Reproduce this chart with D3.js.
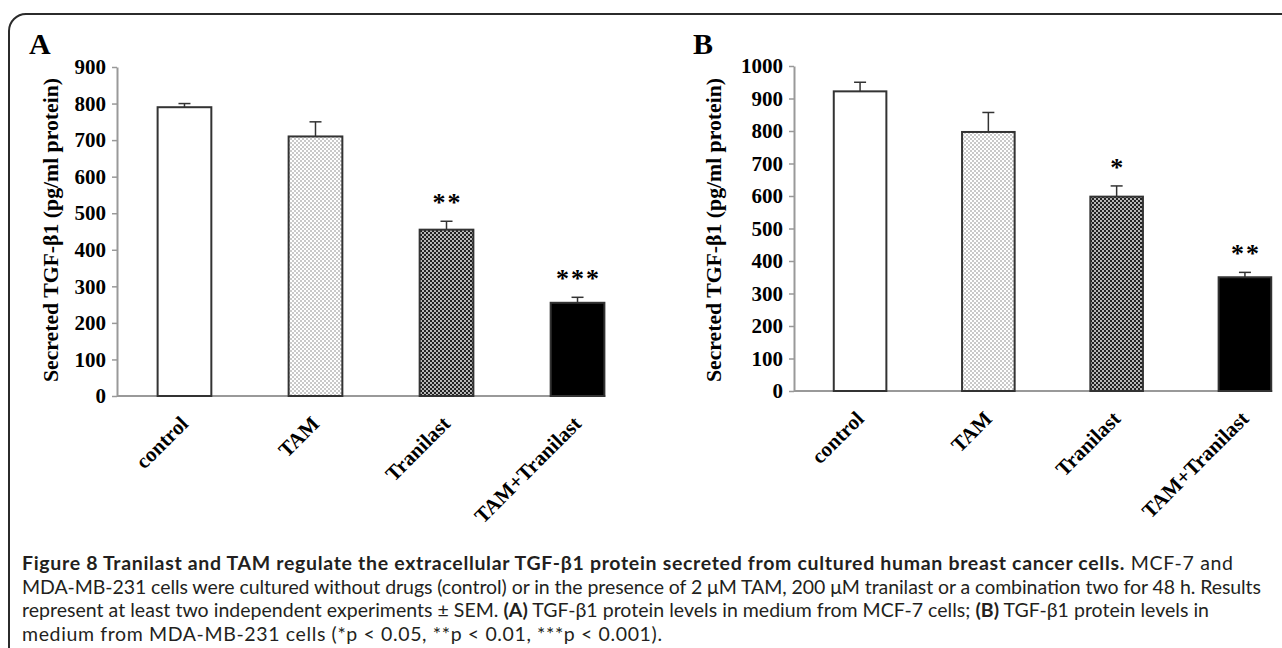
<!DOCTYPE html>
<html>
<head>
<meta charset="utf-8">
<script src="https://cdn.jsdelivr.net/npm/d3@7"></script>
<style>
  body { margin: 0; background: #fff; }
  svg { display: block; }
  .caption { font-family: Lato, "Open Sans", sans-serif; font-size: 19.5px; fill: #231f20; white-space: pre; }
</style>
</head>
<body>
<div id="chart"></div>
<script>
// data
var categories = ["control", "TAM", "Tranilast", "TAM+Tranilast"];

var valuesA = [790, 710, 455, 255];
var errorsA = [10, 40, 23, 15];
var starsA = ["", "", "**", "***"];
var ticksA = [0, 100, 200, 300, 400, 500, 600, 700, 800, 900];

var valuesB = [922, 797, 598, 350];
var errorsB = [28, 60, 33, 15];
var starsB = ["", "", "*", "**"];
var ticksB = [0, 100, 200, 300, 400, 500, 600, 700, 800, 900, 1000];

var yTitle = "Secreted TGF-β1 (pg/ml protein)";

var captionLines = [
  [["Figure 8 Tranilast and TAM regulate the extracellular TGF-β1 protein secreted from cultured human breast cancer cells.", true], [" MCF-7 and", false]],
  [["MDA-MB-231 cells were cultured without drugs (control) or in the presence of 2 μM TAM, 200 μM tranilast or a combination two for 48 h. Results", false]],
  [["represent at least two independent experiments ± SEM. ", false], ["(A)", true], [" TGF-β1 protein levels in medium from MCF-7 cells; ", false], ["(B)", true], [" TGF-β1 protein levels in", false]],
  [["medium from MDA-MB-231 cells (*p < 0.05, **p < 0.01, ***p < 0.001).", false]]
];
var captionWidths = [1211, 1239, 1187, 640];

var serif = '"Liberation Serif", "Times New Roman", serif';
var fills = ["#fff", "url(#dotsLight)", "url(#dotsDark)", "#000"];

var svg = d3.select('#chart').append("svg")
    .attr("width", 1282)
    .attr("height", 648);

// bar fill patterns
var defs = svg.append("defs");
var light = defs.append("pattern").attr("id", "dotsLight")
    .attr("patternUnits", "userSpaceOnUse").attr("width", 4).attr("height", 4);
light.append("rect").attr("width", 4).attr("height", 4).attr("fill", "#fff");
light.append("rect").attr("x", 0.4).attr("y", 0.4).attr("width", 1.2).attr("height", 1.2).attr("fill", "#6a6a6a");
light.append("rect").attr("x", 2.4).attr("y", 2.4).attr("width", 1.2).attr("height", 1.2).attr("fill", "#6a6a6a");

var dark = defs.append("pattern").attr("id", "dotsDark")
    .attr("patternUnits", "userSpaceOnUse").attr("width", 4).attr("height", 4);
dark.append("rect").attr("width", 4).attr("height", 4).attr("fill", "#222");
dark.append("circle").attr("cx", 1).attr("cy", 1).attr("r", 0.9).attr("fill", "#fff");
dark.append("circle").attr("cx", 3).attr("cy", 3).attr("r", 0.9).attr("fill", "#fff");

// frame round the figure
svg.append("path")
    .attr("d", "M9,648 V31 A17,17 0 0 1 26,14 H1282")
    .attr("fill", "none")
    .attr("stroke", "#2b2b2b")
    .attr("stroke-width", 2);

function drawPanel(opt, values, errors, stars, ticks) {
  var g = svg.append("g");

  var x = d3.scaleBand().domain(categories)
      .range([opt.left, opt.left + opt.width])
      .paddingInner(0.59).paddingOuter(0.31);
  var y = d3.scaleLinear().domain([0, d3.max(ticks)]).range([opt.bottom, opt.top]);
  var bw = x.bandwidth();

  // panel letter
  g.append("text")
      .attr("x", opt.letterX).attr("y", 54)
      .attr("font-family", serif).attr("font-weight", "bold").attr("font-size", 30)
      .text(opt.letter);

  // y axis
  var yAxis = g.append("g")
      .attr("transform", "translate(" + opt.left + ",0)")
      .call(d3.axisLeft(y).tickValues(ticks).tickFormat(d3.format("d"))
            .tickSize(5).tickSizeOuter(0).tickPadding(6))
      .attr("font-family", serif).attr("font-size", 21).attr("font-weight", "bold");
  yAxis.select(".domain").attr("stroke", "#999").attr("stroke-width", 2);
  yAxis.selectAll(".tick line").attr("stroke", "#999").attr("stroke-width", 1.5);
  yAxis.selectAll(".tick text").attr("fill", "#000");

  // x baseline
  g.append("line")
      .attr("x1", opt.left).attr("x2", x(categories[categories.length - 1]) + bw + 1)
      .attr("y1", y(0)).attr("y2", y(0))
      .attr("stroke", "#999").attr("stroke-width", 2);

  // bars
  g.selectAll(".bar").data(values).enter().append("rect")
      .attr("class", "bar")
      .attr("x", function(d, i) { return x(categories[i]); })
      .attr("y", function(d) { return y(d); })
      .attr("width", bw)
      .attr("height", function(d) { return y(0) - y(d); })
      .attr("fill", function(d, i) { return fills[i]; })
      .attr("stroke", "#333")
      .attr("stroke-width", 2);

  // upper error bars
  var cx = function(i) { return x(categories[i]) + bw / 2; };
  g.selectAll(".err").data(values).enter().append("line")
      .attr("x1", function(d, i) { return cx(i); })
      .attr("x2", function(d, i) { return cx(i); })
      .attr("y1", function(d) { return y(d); })
      .attr("y2", function(d, i) { return y(d + errors[i]); })
      .attr("stroke", "#333").attr("stroke-width", 1.5);
  g.selectAll(".cap").data(values).enter().append("line")
      .attr("x1", function(d, i) { return cx(i) - 6; })
      .attr("x2", function(d, i) { return cx(i) + 6; })
      .attr("y1", function(d, i) { return y(d + errors[i]); })
      .attr("y2", function(d, i) { return y(d + errors[i]); })
      .attr("stroke", "#333").attr("stroke-width", 1.5);

  // significance stars
  g.selectAll(".star").data(values).enter().append("text")
      .attr("x", function(d, i) { return cx(i) + 1; })
      .attr("y", function(d, i) { return y(d + errors[i]) - 10; })
      .attr("text-anchor", "middle")
      .attr("font-family", serif).attr("font-weight", "bold").attr("font-size", 26)
      .attr("letter-spacing", 2)
      .text(function(d, i) { return stars[i]; });

  // rotated category labels
  g.selectAll(".xlab").data(categories).enter().append("text")
      .attr("transform", function(d, i) {
        return "translate(" + (cx(i) + 5) + "," + (y(0) + 29) + ") rotate(-45)";
      })
      .attr("text-anchor", "end")
      .attr("font-family", serif).attr("font-weight", "bold").attr("font-size", 21)
      .text(function(d) { return d; });

  // y axis title
  g.append("text")
      .attr("transform", "translate(" + opt.titleX + ",230) rotate(-90)")
      .attr("text-anchor", "middle")
      .attr("font-family", serif).attr("font-weight", "bold").attr("font-size", 21)
      .attr("textLength", 304).attr("lengthAdjust", "spacingAndGlyphs")
      .text(yTitle);
}

drawPanel({ letter: "A", letterX: 29, left: 117, width: 528, top: 67, bottom: 396, titleX: 58 },
          valuesA, errorsA, starsA, ticksA);
drawPanel({ letter: "B", letterX: 693, left: 794, width: 517, top: 66, bottom: 391, titleX: 721 },
          valuesB, errorsB, starsB, ticksB);

// caption
captionLines.forEach(function(line, i) {
  var t = svg.append("text")
      .attr("class", "caption")
      .attr("x", 22)
      .attr("y", 570 + i * 23.7);
  if (captionWidths[i]) t.attr("textLength", captionWidths[i]).attr("lengthAdjust", "spacing");
  line.forEach(function(seg) {
    t.append("tspan")
        .attr("font-weight", seg[1] ? "bold" : "normal")
        .text(seg[0]);
  });
});
</script>
</body>
</html>
